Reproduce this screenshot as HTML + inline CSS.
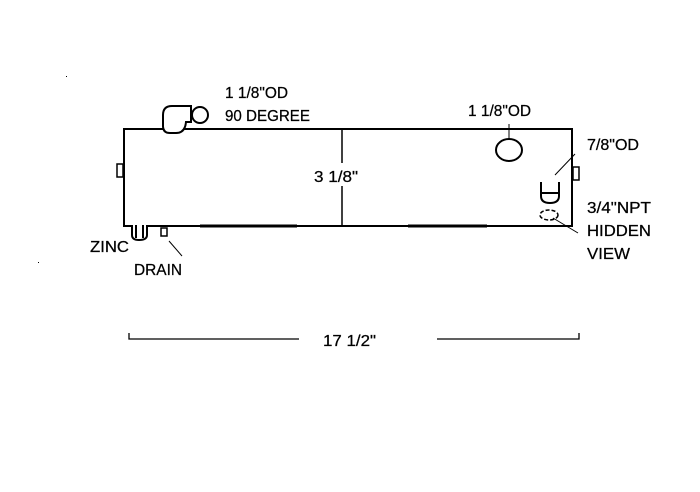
<!DOCTYPE html>
<html><head><style>
html,body{margin:0;padding:0;background:#fff;}
svg{display:block;}
text{font-family:"Liberation Sans",sans-serif;font-size:16px;fill:#000;stroke:#000;stroke-width:0.25;}
</style></head><body>
<svg width="700" height="492" viewBox="0 0 700 492" xmlns="http://www.w3.org/2000/svg">
<g stroke="#000" fill="none" stroke-width="2">
<rect x="124" y="129" width="448" height="97"/>
<line x1="342" y1="129" x2="342" y2="163" stroke-width="1.5"/>
<line x1="342" y1="186" x2="342" y2="226" stroke-width="1.5"/>
<line x1="200" y1="226" x2="297" y2="226" stroke-width="3"/>
<line x1="408" y1="226" x2="487" y2="226" stroke-width="3"/>
<rect x="117" y="164" width="6" height="13" stroke-width="1.5"/>
<rect x="573" y="167" width="6" height="13" stroke-width="1.5"/>
<path d="M172 106 H191 V122 H186 Q185 133 176 133 H170 Q163 133 163 126 V115 Q163 106 172 106 Z" fill="#fff"/>
<circle cx="200" cy="115" r="8" fill="#fff"/>
<ellipse cx="509" cy="150" rx="13" ry="11"/>
<line x1="509" y1="124" x2="509" y2="140" stroke-width="1"/>
<path d="M541 182 V196 Q541 203 550 203 Q559 203 559 196 V182"/>
<line x1="541" y1="193" x2="559" y2="193"/>
<ellipse cx="549" cy="215" rx="9" ry="5" stroke-dasharray="4,2" stroke-width="1.5"/>
<line x1="555" y1="175" x2="575" y2="154" stroke-width="1"/>
<line x1="553" y1="218" x2="578" y2="233" stroke-width="1"/>
<path d="M132 225 V235 Q132 240 139 240 Q147 240 147 235 V225" fill="#fff"/>
<line x1="136" y1="225" x2="136" y2="238"/>
<line x1="143" y1="225" x2="143" y2="238"/>
<rect x="161" y="228" width="6" height="8" stroke-width="1.5"/>
<line x1="169" y1="241" x2="182" y2="256" stroke-width="1"/>
<g stroke-width="1.3">
<path d="M129 333 V339 H299"/>
<path d="M437 339 H579 V333"/>
</g>
</g>
<rect x="66" y="76" width="1" height="1" fill="#000"/>
<rect x="38" y="262" width="1" height="1" fill="#000"/>
<text x="225" y="98" textLength="63" lengthAdjust="spacingAndGlyphs">1 1/8"OD</text>
<text x="225" y="121" textLength="85" lengthAdjust="spacingAndGlyphs">90 DEGREE</text>
<text x="468" y="116" textLength="63" lengthAdjust="spacingAndGlyphs">1 1/8"OD</text>
<text x="587" y="150" textLength="52" lengthAdjust="spacingAndGlyphs">7/8"OD</text>
<text x="314" y="182" textLength="44" lengthAdjust="spacingAndGlyphs">3 1/8"</text>
<text x="587" y="213" textLength="64" lengthAdjust="spacingAndGlyphs">3/4"NPT</text>
<text x="587" y="236" textLength="64" lengthAdjust="spacingAndGlyphs">HIDDEN</text>
<text x="587" y="259" textLength="43" lengthAdjust="spacingAndGlyphs">VIEW</text>
<text x="90" y="252" textLength="39" lengthAdjust="spacingAndGlyphs">ZINC</text>
<text x="134" y="275" textLength="48" lengthAdjust="spacingAndGlyphs">DRAIN</text>
<text x="323" y="346" textLength="53" lengthAdjust="spacingAndGlyphs">17 1/2"</text>
</svg>
</body></html>
